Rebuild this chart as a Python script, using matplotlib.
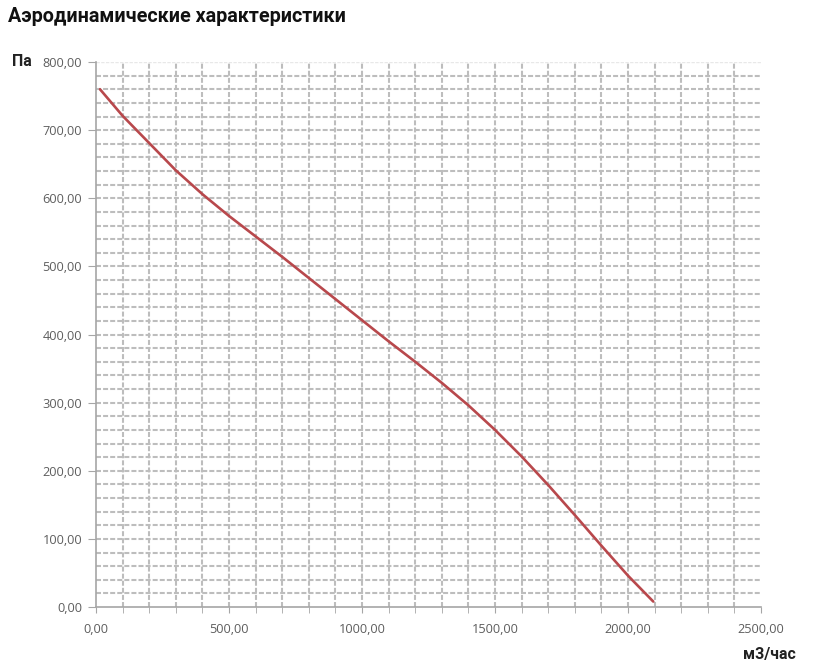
import matplotlib
matplotlib.use("Agg")
import matplotlib.pyplot as plt

# data
flow = [15, 100, 200, 300, 400, 500, 600, 700, 800, 900, 1000, 1100, 1200,
        1300, 1400, 1500, 1600, 1700, 1800, 1900, 2000, 2095]
pressure = [760, 721, 681, 641, 606, 574, 544, 514, 483, 452, 421, 390, 360,
            329, 296, 260, 221, 179, 135, 90, 46, 8]

x_ticks = [0, 500, 1000, 1500, 2000, 2500]
x_labels = ["0,00", "500,00", "1000,00", "1500,00", "2000,00", "2500,00"]
y_ticks = [0, 100, 200, 300, 400, 500, 600, 700, 800]
y_labels = ["0,00", "100,00", "200,00", "300,00", "400,00", "500,00", "600,00", "700,00", "800,00"]

title = "Аэродинамические характеристики"
y_unit = "Па"
x_unit = "м3/час"

fig = plt.figure(figsize=(8.14, 6.68), dpi=100)
ax = fig.add_axes([96/814, 61/668, 665/814, 545/668])

ax.set_xlim(0, 2500)
ax.set_ylim(0, 800)

grid_col = "#bdbdbd"
dash = (0, (2.4, 1.0))
for yv in range(20, 800, 20):
    ax.axhline(yv, color=grid_col, lw=1.5, ls=dash, zorder=1)
ax.axhline(800, color="#e8e8e8", lw=1.0, ls=dash, zorder=1)
for xv in range(100, 2500, 100):
    ax.axvline(xv, color=grid_col, lw=1.5, ls=dash, zorder=1)

ax.plot(flow, pressure, color="#b8484c", lw=1.9, zorder=3,
        solid_capstyle="round", solid_joinstyle="round")

for s in ["top", "right"]:
    ax.spines[s].set_visible(False)
for s in ["left", "bottom"]:
    ax.spines[s].set_color("#a6a6a6")
    ax.spines[s].set_linewidth(1.2)

ax.set_xticks(x_ticks)
ax.set_xticklabels(x_labels)
ax.set_xticks(range(0, 2501, 100), minor=True)
ax.set_yticks(y_ticks)
ax.set_yticklabels(y_labels)

for t in ax.get_xticklabels() + ax.get_yticklabels():
    t.set_fontfamily("Open Sans")
    t.set_fontsize(9.2)
    t.set_color("#5e5e5e")
ax.tick_params(axis="x", which="both", direction="out", length=4, color="#a6a6a6", pad=7.5)
ax.tick_params(axis="y", which="major", direction="out", length=6, color="#a6a6a6", pad=4)

fig.text(8/814, 1 - 17/668, title, family="Roboto", weight="bold", fontsize=14.2,
         va="center", ha="left", color="#111111")
fig.text(12/814, 1 - 61/668, y_unit, family="Roboto", weight="bold", fontsize=11.5,
         va="center", ha="left", color="#222222")
fig.text(796/814, 1 - 655/668, x_unit, family="Roboto", weight="bold", fontsize=11.5,
         va="center", ha="right", color="#222222")

fig.savefig("out.png", dpi=100)
